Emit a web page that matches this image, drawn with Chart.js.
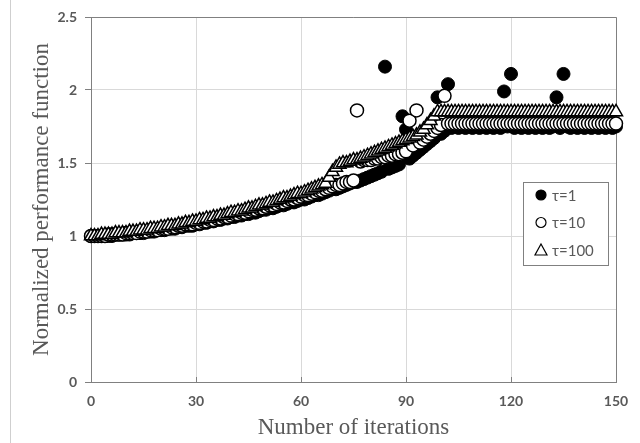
<!DOCTYPE html>
<html>
<head>
<meta charset="utf-8">
<script src="https://cdn.jsdelivr.net/npm/chart.js@4.4.0/dist/chart.umd.min.js"></script>
<style>
  html, body { margin: 0; padding: 0; background: #fff; }
  #wrap { position: relative; width: 640px; height: 443px; }
  #edge { position: absolute; left: 10px; top: 0; width: 1px; height: 443px; background: #cfcfcf; }
</style>
</head>
<body>
<div id="wrap">
  <canvas id="scatterChart" width="640" height="443"></canvas>
  <div id="edge"></div>
</div>
<script>
// eje x: iteraciones 0..150
const iterations = Array.from({ length: 151 }, (_, i) => i);
const xTicks = [0, 30, 60, 90, 120, 150];
const yTicks = [0, 0.5, 1, 1.5, 2, 2.5];

const seriesNames = ["τ=1", "τ=10", "τ=100"];

// τ=1
const tau1 = [
  1.00,1.00,1.00,1.00,1.00,1.00,1.00,1.01,1.01,1.01,
  1.01,1.01,1.02,1.02,1.02,1.02,1.03,1.03,1.03,1.04,
  1.04,1.04,1.05,1.05,1.05,1.06,1.06,1.07,1.07,1.07,
  1.08,1.08,1.09,1.09,1.10,1.10,1.11,1.11,1.12,1.12,
  1.13,1.13,1.14,1.14,1.15,1.15,1.16,1.16,1.17,1.18,
  1.18,1.19,1.19,1.20,1.21,1.21,1.22,1.23,1.23,1.24,
  1.25,1.25,1.26,1.27,1.28,1.28,1.29,1.30,1.31,1.32,
  1.32,1.33,1.34,1.35,1.36,1.37,1.37,1.38,1.39,1.40,
  1.41,1.42,1.43,1.44,2.16,1.46,1.47,1.48,1.49,1.82,
  1.73,1.53,1.55,1.57,1.59,1.61,1.63,1.65,1.67,1.95,
  1.70,1.72,2.04,1.74,1.75,1.74,1.75,1.74,1.75,1.74,
  1.75,1.74,1.75,1.74,1.75,1.74,1.75,1.74,1.99,1.75,
  2.11,1.74,1.75,1.74,1.75,1.74,1.75,1.74,1.75,1.74,
  1.75,1.74,1.75,1.95,1.74,2.11,1.75,1.74,1.75,1.74,
  1.75,1.74,1.75,1.74,1.75,1.74,1.75,1.74,1.75,1.74,
  1.75
];

// τ=10
const tau10 = [
  1.00,1.00,1.00,1.00,1.00,1.01,1.01,1.01,1.01,1.01,
  1.02,1.02,1.02,1.02,1.03,1.03,1.03,1.04,1.04,1.04,
  1.05,1.05,1.05,1.06,1.06,1.07,1.07,1.08,1.08,1.08,
  1.09,1.09,1.10,1.10,1.11,1.11,1.12,1.12,1.13,1.13,
  1.14,1.15,1.15,1.16,1.16,1.17,1.18,1.18,1.19,1.19,
  1.20,1.21,1.21,1.22,1.23,1.23,1.24,1.25,1.25,1.26,
  1.27,1.28,1.28,1.29,1.30,1.31,1.31,1.32,1.33,1.34,
  1.35,1.35,1.36,1.37,1.37,1.38,1.86,1.51,1.52,1.52,
  1.52,1.53,1.53,1.54,1.54,1.55,1.55,1.56,1.56,1.57,
  1.58,1.79,1.62,1.86,1.64,1.66,1.68,1.70,1.72,1.74,
  1.76,1.96,1.77,1.77,1.77,1.77,1.77,1.77,1.77,1.77,
  1.77,1.77,1.77,1.77,1.77,1.77,1.77,1.77,1.77,1.77,
  1.77,1.77,1.77,1.77,1.77,1.77,1.77,1.77,1.77,1.77,
  1.77,1.77,1.77,1.77,1.77,1.77,1.77,1.77,1.77,1.77,
  1.77,1.77,1.77,1.77,1.77,1.77,1.77,1.77,1.77,1.77,
  1.77
];

// τ=100
const tau100 = [
  1.00,1.00,1.00,1.01,1.01,1.01,1.01,1.02,1.02,1.02,
  1.02,1.03,1.03,1.03,1.04,1.04,1.04,1.05,1.05,1.05,
  1.06,1.06,1.07,1.07,1.07,1.08,1.08,1.09,1.09,1.10,
  1.10,1.11,1.11,1.12,1.12,1.13,1.13,1.14,1.14,1.15,
  1.16,1.16,1.17,1.17,1.18,1.19,1.19,1.20,1.21,1.21,
  1.22,1.23,1.23,1.24,1.25,1.26,1.26,1.27,1.28,1.29,
  1.29,1.30,1.31,1.32,1.33,1.34,1.35,1.36,1.40,1.44,
  1.47,1.49,1.50,1.50,1.51,1.52,1.52,1.53,1.54,1.55,
  1.56,1.57,1.58,1.59,1.60,1.61,1.62,1.63,1.64,1.65,
  1.66,1.67,1.68,1.69,1.71,1.73,1.76,1.79,1.82,1.85,
  1.85,1.85,1.85,1.85,1.85,1.85,1.85,1.85,1.85,1.85,
  1.85,1.85,1.85,1.85,1.85,1.85,1.85,1.85,1.85,1.85,
  1.85,1.85,1.85,1.85,1.85,1.85,1.85,1.85,1.85,1.85,
  1.85,1.85,1.85,1.85,1.85,1.85,1.85,1.85,1.85,1.85,
  1.85,1.85,1.85,1.85,1.85,1.85,1.85,1.85,1.85,1.85,
  1.85
];

function toPoints(values) {
  return values.map((v, i) => ({ x: iterations[i], y: v }));
}

const grey = '#595959';
const lineGrey = '#808080';

// marco del area de trazado + marcas cortas hacia dentro en el eje x
const plotFrame = {
  id: 'plotFrame',
  beforeDatasetsDraw(chart) {
    const { ctx, chartArea: a, scales } = chart;
    ctx.save();
    ctx.strokeStyle = lineGrey;
    ctx.lineWidth = 1;
    ctx.beginPath();
    ctx.moveTo(a.left, a.top + 0.5);
    ctx.lineTo(a.right + 0.5, a.top + 0.5);
    ctx.lineTo(a.right + 0.5, a.bottom);
    ctx.stroke();
    ctx.beginPath();
    xTicks.slice(1, -1).forEach(t => {
      const px = Math.round(scales.x.getPixelForValue(t)) + 0.5;
      ctx.moveTo(px, a.bottom);
      ctx.lineTo(px, a.bottom - 5);
    });
    ctx.stroke();
    ctx.restore();
  }
};

// leyenda dentro del grafico
function drawMarker(ctx, kind, x, y) {
  ctx.beginPath();
  if (kind === 'triangle') {
    ctx.moveTo(x, y - 6);
    ctx.lineTo(x + 6, y + 5);
    ctx.lineTo(x - 6, y + 5);
    ctx.closePath();
  } else {
    ctx.arc(x, y, 5, 0, Math.PI * 2);
  }
  ctx.fillStyle = kind === 'filled' ? '#000' : '#fff';
  ctx.fill();
  ctx.strokeStyle = '#000';
  ctx.lineWidth = 1.2;
  ctx.stroke();
}

const innerLegend = {
  id: 'innerLegend',
  afterDraw(chart) {
    const { ctx, chartArea: a } = chart;
    const x0 = a.right - 93, y0 = a.top + 165, w = 85, h = 83;
    const kinds = ['filled', 'open', 'triangle'];
    ctx.save();
    ctx.fillStyle = '#fff';
    ctx.fillRect(x0, y0, w, h);
    ctx.strokeStyle = lineGrey;
    ctx.lineWidth = 1;
    ctx.strokeRect(x0 + 0.5, y0 + 0.5, w, h);
    seriesNames.forEach((name, i) => {
      const cy = y0 + 13 + i * 27.5;
      drawMarker(ctx, kinds[i], x0 + 18, cy);
      ctx.fillStyle = grey;
      ctx.font = '15px Lato';
      ctx.textBaseline = 'middle';
      ctx.fillText(name, x0 + 29, cy + 1);
    });
    ctx.restore();
  }
};

const ctx = document.getElementById('scatterChart');

new Chart(ctx, {
  type: 'scatter',
  data: {
    datasets: [
      {
        label: seriesNames[0],
        data: toPoints(tau1),
        pointStyle: 'circle',
        pointRadius: 6.5,
        backgroundColor: '#000',
        borderColor: '#000',
        borderWidth: 1,
        clip: false,
        order: 3
      },
      {
        label: seriesNames[1],
        data: toPoints(tau10),
        pointStyle: 'circle',
        pointRadius: 6.5,
        backgroundColor: '#fff',
        borderColor: '#000',
        borderWidth: 1.5,
        clip: false,
        order: 2
      },
      {
        label: seriesNames[2],
        data: toPoints(tau100),
        pointStyle: 'triangle',
        pointRadius: 7.5,
        backgroundColor: '#fff',
        borderColor: '#000',
        borderWidth: 1.5,
        clip: false,
        order: 1
      }
    ]
  },
  options: {
    responsive: false,
    animation: false,
    events: [],
    layout: { padding: { left: 0, right: 24, top: 17, bottom: 0 } },
    plugins: {
      legend: { display: false },
      tooltip: { enabled: false }
    },
    scales: {
      x: {
        type: 'linear',
        min: 0,
        max: 150,
        afterBuildTicks: s => { s.ticks = xTicks.map(v => ({ value: v })); },
        afterFit: s => { s.height = 61; },
        ticks: {
          callback: v => String(v),
          color: grey,
          padding: 11,
          font: { family: 'Lato', size: 14, weight: 'bold' }
        },
        grid: { color: '#d9d9d9', drawTicks: false },
        border: { color: lineGrey, width: 1 },
        title: {
          display: true,
          text: 'Number of iterations',
          color: grey,
          font: { family: 'Liberation Serif', size: 23 },
          padding: { top: 0, bottom: 1 }
        }
      },
      y: {
        min: 0,
        max: 2.5,
        afterBuildTicks: s => { s.ticks = yTicks.map(v => ({ value: v })); },
        afterFit: s => { s.width = 91; },
        ticks: {
          callback: v => String(v),
          color: grey,
          padding: 8,
          font: { family: 'Lato', size: 14, weight: 'bold' }
        },
        grid: { color: '#d9d9d9', tickLength: 6, tickColor: lineGrey },
        border: { color: lineGrey, width: 1 },
        title: {
          display: true,
          text: 'Normalized performance function',
          color: grey,
          font: { family: 'Liberation Serif', size: 23 },
          padding: { top: 28, bottom: 0 }
        }
      }
    }
  },
  plugins: [plotFrame, innerLegend]
});
</script>
</body>
</html>
